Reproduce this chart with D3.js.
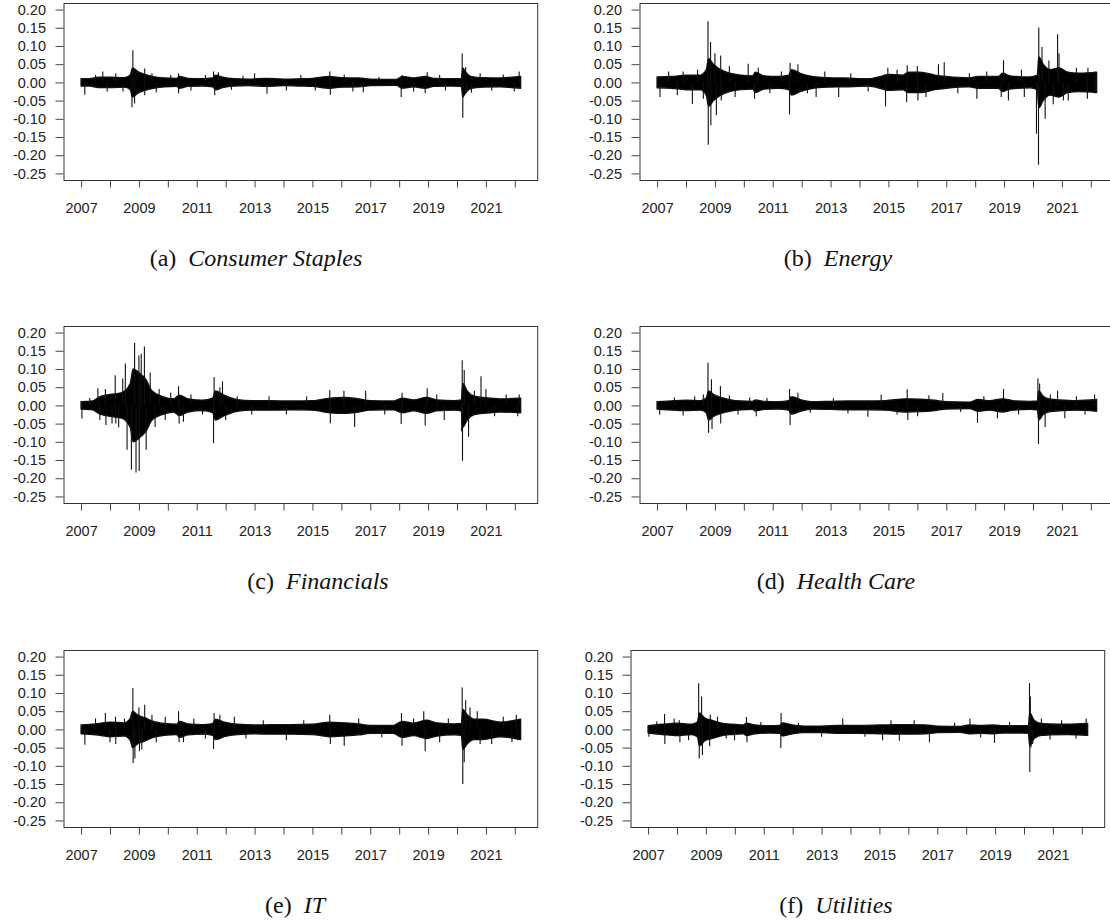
<!DOCTYPE html>
<html>
<head>
<meta charset="utf-8">
<script src="https://cdn.jsdelivr.net/npm/d3@7"></script>
<style>
  body { margin: 0; background: #fff; }
  svg { display: block; }
  .axis text { font-family: "Liberation Sans", Arial, sans-serif; font-size: 14.5px; fill: #222; }
  .axis line { stroke: #444; }
  .caption { font-family: "Liberation Serif", "Times New Roman", serif; font-size: 24px; fill: #111; }
</style>
</head>
<body>
<svg id="fig" width="1110" height="924"></svg>
<script>
// Axis ticks
var yTicks = [0.20, 0.15, 0.10, 0.05, 0.00, -0.05, -0.10, -0.15, -0.20, -0.25];
var yearTicks = [2007, 2008, 2009, 2010, 2011, 2012, 2013, 2014, 2015, 2016, 2017, 2018, 2019, 2020, 2021, 2022];
var yearLabels = [2007, 2009, 2011, 2013, 2015, 2017, 2019, 2021];
var dataStart = 2007.0, dataEnd = 2022.2;

// Half-width of the dense return band [year, width]
var staplesBand = [[2007.0, 0.01], [2007.3, 0.01], [2007.6, 0.014], [2008.0, 0.014], [2008.5, 0.013], [2008.7, 0.02],
  [2008.78, 0.04], [2008.95, 0.03], [2009.2, 0.022], [2009.5, 0.016], [2009.9, 0.012], [2010.3, 0.011], [2010.4, 0.016],
  [2010.7, 0.011], [2011.2, 0.01], [2011.55, 0.012], [2011.65, 0.02], [2011.9, 0.014], [2012.3, 0.01], [2012.8, 0.009],
  [2013.4, 0.011], [2014.0, 0.009], [2014.6, 0.01], [2015.0, 0.011], [2015.6, 0.016], [2016.0, 0.013], [2016.6, 0.012],
  [2017.0, 0.009], [2017.9, 0.008], [2018.1, 0.016], [2018.5, 0.012], [2018.9, 0.016], [2019.2, 0.011], [2019.8, 0.01],
  [2020.15, 0.011], [2020.2, 0.04], [2020.3, 0.028], [2020.5, 0.016], [2020.9, 0.013], [2021.5, 0.012], [2021.9, 0.014], [2022.2, 0.016]];
var energyBand = [[2007.0, 0.015], [2007.5, 0.016], [2008.0, 0.02], [2008.5, 0.02], [2008.7, 0.035], [2008.78, 0.065],
  [2008.95, 0.05], [2009.2, 0.035], [2009.5, 0.025], [2009.9, 0.02], [2010.3, 0.018], [2010.4, 0.028], [2010.7, 0.018],
  [2011.2, 0.016], [2011.55, 0.02], [2011.65, 0.035], [2011.95, 0.025], [2012.4, 0.016], [2012.9, 0.013], [2013.5, 0.012],
  [2014.3, 0.01], [2014.8, 0.018], [2015.0, 0.022], [2015.5, 0.02], [2015.7, 0.028], [2016.1, 0.028], [2016.6, 0.02],
  [2017.0, 0.016], [2017.8, 0.012], [2018.1, 0.016], [2018.8, 0.016], [2018.95, 0.025], [2019.2, 0.018], [2019.9, 0.015],
  [2020.15, 0.02], [2020.2, 0.07], [2020.35, 0.05], [2020.6, 0.035], [2020.9, 0.04], [2021.2, 0.028], [2021.6, 0.025], [2022.2, 0.028]];
var financialsBand = [[2007.0, 0.01], [2007.4, 0.012], [2007.6, 0.022], [2008.0, 0.03], [2008.4, 0.035], [2008.7, 0.06],
  [2008.8, 0.1], [2009.0, 0.09], [2009.25, 0.07], [2009.45, 0.04], [2009.8, 0.025], [2010.2, 0.018], [2010.4, 0.028],
  [2010.7, 0.018], [2011.2, 0.014], [2011.55, 0.02], [2011.65, 0.04], [2011.95, 0.028], [2012.4, 0.016], [2012.9, 0.013],
  [2013.5, 0.013], [2014.3, 0.012], [2015.0, 0.013], [2015.6, 0.02], [2016.1, 0.022], [2016.6, 0.018], [2017.0, 0.013],
  [2017.8, 0.012], [2018.1, 0.02], [2018.5, 0.015], [2018.95, 0.022], [2019.3, 0.015], [2019.9, 0.013], [2020.15, 0.015],
  [2020.2, 0.06], [2020.35, 0.04], [2020.6, 0.025], [2020.9, 0.022], [2021.5, 0.018], [2022.2, 0.02]];
var healthBand = [[2007.0, 0.01], [2007.6, 0.013], [2008.0, 0.014], [2008.5, 0.013], [2008.7, 0.02], [2008.78, 0.04],
  [2008.95, 0.03], [2009.2, 0.022], [2009.5, 0.016], [2009.9, 0.012], [2010.3, 0.011], [2010.4, 0.015], [2010.7, 0.011],
  [2011.2, 0.01], [2011.55, 0.013], [2011.65, 0.024], [2011.95, 0.016], [2012.4, 0.01], [2013.0, 0.011], [2013.6, 0.012],
  [2014.3, 0.012], [2014.9, 0.013], [2015.6, 0.018], [2016.1, 0.017], [2016.6, 0.014], [2017.0, 0.01], [2017.8, 0.009],
  [2018.1, 0.016], [2018.5, 0.013], [2018.95, 0.018], [2019.3, 0.013], [2019.9, 0.011], [2020.15, 0.012], [2020.2, 0.04],
  [2020.35, 0.025], [2020.6, 0.017], [2020.9, 0.015], [2021.5, 0.013], [2022.2, 0.016]];
var itBand = [[2007.0, 0.012], [2007.5, 0.015], [2008.0, 0.02], [2008.5, 0.018], [2008.7, 0.03], [2008.78, 0.05],
  [2008.95, 0.04], [2009.2, 0.032], [2009.5, 0.022], [2009.9, 0.016], [2010.3, 0.014], [2010.4, 0.022], [2010.7, 0.015],
  [2011.2, 0.013], [2011.55, 0.016], [2011.65, 0.028], [2011.95, 0.02], [2012.4, 0.014], [2013.0, 0.012], [2013.6, 0.013],
  [2014.3, 0.013], [2015.0, 0.014], [2015.6, 0.02], [2016.1, 0.018], [2016.6, 0.015], [2017.0, 0.011], [2017.8, 0.011],
  [2018.1, 0.022], [2018.5, 0.017], [2018.95, 0.025], [2019.3, 0.018], [2019.9, 0.015], [2020.15, 0.016], [2020.2, 0.055],
  [2020.35, 0.04], [2020.6, 0.028], [2020.9, 0.028], [2021.5, 0.02], [2022.2, 0.028]];
var utilitiesBand = [[2007.0, 0.01], [2007.5, 0.014], [2008.0, 0.017], [2008.5, 0.014], [2008.7, 0.02], [2008.78, 0.045],
  [2008.95, 0.032], [2009.2, 0.025], [2009.5, 0.018], [2009.9, 0.014], [2010.3, 0.012], [2010.4, 0.017], [2010.7, 0.012],
  [2011.2, 0.01], [2011.55, 0.011], [2011.65, 0.018], [2011.95, 0.013], [2012.4, 0.009], [2013.0, 0.009], [2013.6, 0.011],
  [2014.3, 0.011], [2015.0, 0.012], [2015.6, 0.013], [2016.1, 0.013], [2016.6, 0.012], [2017.0, 0.009], [2017.8, 0.008],
  [2018.1, 0.012], [2018.5, 0.011], [2018.95, 0.012], [2019.3, 0.01], [2019.9, 0.01], [2020.15, 0.011], [2020.2, 0.045],
  [2020.35, 0.025], [2020.6, 0.016], [2020.9, 0.015], [2021.5, 0.014], [2022.2, 0.016]];

// Extreme daily returns [year, return]
var staplesSpikes = [[2007.13, -0.034], [2007.5, 0.02], [2007.75, 0.03], [2007.9, -0.025], [2008.2, 0.025],
  [2008.45, -0.025], [2008.79, 0.088], [2008.76, -0.068], [2008.85, -0.058], [2008.9, 0.035], [2009.2, 0.038],
  [2009.2, -0.035], [2009.45, 0.025], [2009.6, -0.028], [2010.1, 0.02], [2010.37, 0.025], [2010.37, -0.03],
  [2010.8, -0.022], [2011.3, 0.02], [2011.58, 0.03], [2011.62, -0.035], [2011.75, 0.028], [2012.2, -0.02],
  [2012.6, 0.018], [2013.0, 0.025], [2013.43, -0.031], [2014.1, -0.022], [2014.6, 0.02], [2015.1, -0.022],
  [2015.6, 0.03], [2015.62, -0.034], [2016.1, 0.022], [2016.4, -0.025], [2016.76, -0.027], [2017.3, 0.015],
  [2018.07, -0.04], [2018.1, 0.02], [2018.5, -0.025], [2018.9, -0.03], [2018.97, 0.028], [2019.4, 0.02],
  [2019.6, -0.022], [2020.18, 0.079], [2020.2, -0.097], [2020.3, 0.042], [2020.32, -0.03], [2020.5, -0.028],
  [2020.8, 0.025], [2021.2, -0.022], [2021.6, 0.022], [2021.98, -0.025], [2022.15, 0.03]];
var energySpikes = [[2007.1, -0.04], [2007.4, 0.03], [2007.7, -0.035], [2007.9, 0.03], [2008.22, -0.059],
  [2008.4, 0.035], [2008.6, -0.045], [2008.76, 0.168], [2008.77, -0.171], [2008.85, 0.111], [2008.86, -0.118],
  [2009.0, 0.08], [2009.05, -0.09], [2009.2, 0.074], [2009.22, -0.05], [2009.5, 0.045], [2009.7, -0.04],
  [2010.15, 0.051], [2010.37, -0.045], [2010.5, 0.04], [2010.9, -0.03], [2011.3, 0.03], [2011.58, -0.088],
  [2011.6, 0.053], [2011.87, 0.05], [2012.2, -0.03], [2012.5, -0.04], [2012.8, 0.03], [2013.28, -0.04],
  [2013.7, 0.025], [2014.3, -0.025], [2014.9, -0.066], [2014.98, 0.04], [2015.3, 0.035], [2015.63, -0.054],
  [2015.65, 0.047], [2016.0, 0.045], [2016.02, -0.05], [2016.3, -0.04], [2016.73, 0.05], [2016.93, 0.055],
  [2017.4, -0.03], [2017.8, 0.025], [2018.06, -0.045], [2018.4, 0.03], [2018.9, -0.04], [2018.98, 0.061],
  [2019.15, -0.05], [2019.6, 0.035], [2019.7, -0.04], [2020.12, -0.141], [2020.19, -0.226], [2020.2, 0.151],
  [2020.31, 0.097], [2020.42, -0.1], [2020.55, 0.06], [2020.7, -0.06], [2020.85, 0.132], [2020.9, 0.08],
  [2021.05, -0.05], [2021.22, -0.05], [2021.5, 0.04], [2021.88, -0.045], [2021.9, 0.04], [2022.14, 0.03], [2022.15, -0.03]];
var financialsSpikes = [[2007.03, -0.036], [2007.3, 0.02], [2007.58, 0.047], [2007.65, -0.04], [2007.84, 0.045],
  [2007.86, -0.054], [2008.07, -0.05], [2008.18, 0.083], [2008.2, -0.05], [2008.3, -0.06], [2008.44, 0.074],
  [2008.53, 0.115], [2008.59, -0.122], [2008.74, -0.177], [2008.85, 0.171], [2008.9, -0.184], [2009.0, 0.137],
  [2009.01, -0.18], [2009.08, 0.142], [2009.19, 0.162], [2009.25, -0.122], [2009.39, 0.09], [2009.56, -0.059],
  [2009.7, 0.045], [2009.91, -0.04], [2010.1, 0.035], [2010.37, 0.053], [2010.39, -0.05], [2010.54, -0.045],
  [2010.8, 0.03], [2011.2, -0.025], [2011.58, -0.104], [2011.6, 0.078], [2011.8, 0.05], [2011.89, 0.066],
  [2012.0, -0.04], [2012.4, 0.025], [2012.9, -0.025], [2013.5, 0.025], [2014.1, -0.025], [2014.8, 0.025],
  [2015.6, 0.042], [2015.62, -0.049], [2016.09, 0.04], [2016.46, -0.059], [2016.84, 0.04], [2017.5, -0.025],
  [2018.07, -0.051], [2018.1, 0.035], [2018.9, -0.055], [2018.97, 0.047], [2019.3, 0.03], [2019.56, -0.04],
  [2020.16, -0.072], [2020.18, 0.124], [2020.19, -0.152], [2020.25, 0.097], [2020.4, -0.086], [2020.6, 0.04],
  [2020.83, 0.08], [2021.0, 0.045], [2021.3, -0.03], [2021.7, 0.03], [2022.1, -0.03], [2022.15, 0.03]];
var healthSpikes = [[2007.09, -0.026], [2007.6, 0.022], [2007.9, -0.028], [2008.3, 0.025], [2008.6, 0.03],
  [2008.76, 0.117], [2008.78, -0.075], [2008.88, 0.072], [2008.9, -0.065], [2009.19, 0.053], [2009.2, -0.05],
  [2009.5, 0.028], [2009.8, -0.025], [2010.2, 0.022], [2010.43, -0.03], [2010.8, 0.02], [2011.58, 0.045],
  [2011.6, -0.054], [2011.87, 0.035], [2012.3, -0.02], [2013.1, 0.02], [2013.6, -0.022], [2014.29, -0.031],
  [2014.75, 0.03], [2015.3, -0.025], [2015.65, 0.044], [2015.67, -0.04], [2016.01, -0.03], [2016.4, 0.028],
  [2016.88, 0.034], [2017.5, -0.018], [2018.08, -0.048], [2018.3, 0.025], [2018.77, -0.035], [2018.98, 0.045],
  [2019.5, -0.025], [2020.17, 0.074], [2020.19, -0.106], [2020.23, 0.06], [2020.42, -0.059], [2020.6, 0.03],
  [2020.85, 0.04], [2021.1, -0.035], [2021.5, 0.025], [2021.8, -0.025], [2022.13, 0.03]];
var itSpikes = [[2007.13, -0.042], [2007.5, 0.03], [2007.84, 0.045], [2008.0, -0.035], [2008.19, 0.035],
  [2008.2, -0.04], [2008.5, 0.03], [2008.79, 0.114], [2008.8, -0.092], [2008.86, -0.08], [2009.0, 0.061],
  [2009.02, -0.06], [2009.1, -0.055], [2009.2, 0.068], [2009.45, 0.04], [2009.6, -0.035], [2009.91, 0.035],
  [2010.37, 0.05], [2010.39, -0.035], [2010.54, -0.035], [2010.9, 0.03], [2011.3, -0.025], [2011.58, -0.054],
  [2011.6, 0.045], [2011.8, 0.04], [2012.3, 0.035], [2012.7, -0.025], [2013.3, 0.025], [2014.1, -0.03],
  [2014.7, 0.025], [2015.6, 0.04], [2015.62, -0.04], [2016.1, -0.045], [2016.6, 0.03], [2017.4, -0.022],
  [2018.08, 0.045], [2018.1, -0.045], [2018.5, 0.03], [2018.85, 0.05], [2018.9, -0.06], [2019.4, -0.035],
  [2019.7, 0.03], [2020.18, 0.115], [2020.2, -0.15], [2020.25, -0.09], [2020.3, 0.08], [2020.45, 0.06],
  [2020.7, 0.05], [2020.8, -0.04], [2021.2, -0.04], [2021.6, 0.035], [2021.9, -0.035], [2022.05, 0.04], [2022.1, -0.03]];
var utilitiesSpikes = [[2007.03, -0.02], [2007.3, 0.022], [2007.57, 0.042], [2007.58, -0.04], [2007.9, 0.03],
  [2008.08, 0.025], [2008.1, -0.035], [2008.4, -0.03], [2008.75, 0.127], [2008.77, -0.08], [2008.85, 0.09],
  [2008.88, -0.07], [2009.13, -0.046], [2009.15, 0.04], [2009.4, 0.035], [2009.7, -0.025], [2009.99, -0.03],
  [2010.4, 0.034], [2010.42, -0.035], [2010.9, 0.02], [2011.59, -0.051], [2011.6, 0.045], [2012.2, 0.018],
  [2013.0, -0.02], [2013.73, 0.03], [2014.5, -0.02], [2015.11, -0.03], [2015.4, 0.025], [2015.69, -0.031],
  [2016.2, 0.025], [2016.73, -0.035], [2017.6, 0.018], [2018.13, 0.03], [2018.5, -0.022], [2018.98, -0.037],
  [2019.5, 0.02], [2020.19, 0.127], [2020.2, -0.117], [2020.22, 0.09], [2020.24, -0.05], [2020.3, -0.04],
  [2020.6, 0.03], [2020.9, -0.028], [2021.3, 0.025], [2021.8, -0.025], [2022.15, 0.03]];

var svg = d3.select("#fig");

function createChart(panel) {
  var width = 474.7, height = 177;
  var g = svg.append("g")
      .attr("transform", "translate(" + panel.left + "," + panel.top + ")");

  // R style scales: 4% padding beyond the data range
  var xPad = (dataEnd - dataStart) * 0.04, yPad = (0.20 + 0.25) * 0.04;
  var x = d3.scaleLinear().domain([dataStart - xPad, dataEnd + xPad]).range([0, width]);
  var y = d3.scaleLinear().domain([-0.25 - yPad, 0.20 + yPad]).range([height, 0]);

  var area = d3.area()
      .curve(d3.curveMonotoneX)
      .x(function(d) { return x(d[0]); })
      .y0(function(d) { return y(-d[1]); })
      .y1(function(d) { return y(d[1]); });

  g.append("path")
      .datum(panel.band)
      .attr("fill", "#000")
      .attr("stroke", "#111")
      .attr("stroke-width", 1.4)
      .attr("stroke-linejoin", "round")
      .attr("d", area);

  g.append("g")
      .selectAll("line")
      .data(panel.spikes)
    .enter().append("line")
      .attr("x1", function(d) { return x(d[0]); })
      .attr("x2", function(d) { return x(d[0]); })
      .attr("y1", y(0))
      .attr("y2", function(d) { return y(d[1]); })
      .attr("stroke", "#111")
      .attr("stroke-width", 1.1);

  // box
  g.append("rect")
      .attr("x", 0.5).attr("y", 0.5)
      .attr("width", width - 1).attr("height", height)
      .attr("fill", "none")
      .attr("stroke", "#333");

  var yAxis = d3.axisLeft(y)
      .tickValues(yTicks)
      .tickSize(8)
      .tickPadding(9.5)
      .tickFormat(function(d) { return d.toFixed(2); });

  var xAxis = d3.axisBottom(x)
      .tickValues(yearTicks)
      .tickSize(7)
      .tickPadding(15.5)
      .tickFormat(function(d) { return yearLabels.indexOf(d) >= 0 ? d : ""; });

  g.append("g").attr("class", "axis").call(yAxis)
    .call(function(s) { s.select(".domain").remove(); });

  g.append("g").attr("class", "axis")
      .attr("transform", "translate(0," + (height + 0.5) + ")")
      .call(xAxis)
    .call(function(s) { s.select(".domain").remove(); });

  var cap = svg.append("text")
      .attr("class", "caption")
      .attr("x", panel.capX)
      .attr("y", panel.capY)
      .attr("text-anchor", "middle");
  cap.append("tspan").text("(" + panel.key + ")\u00a0\u00a0");
  cap.append("tspan").attr("font-style", "italic").text(panel.name);
}

var panels = [
  {key: "a", name: "Consumer Staples", band: staplesBand, spikes: staplesSpikes, left: 63.5, top: 3, capX: 256, capY: 266},
  {key: "b", name: "Energy", band: energyBand, spikes: energySpikes, left: 639.5, top: 3, capX: 838, capY: 266},
  {key: "c", name: "Financials", band: financialsBand, spikes: financialsSpikes, left: 63.5, top: 326, capX: 318, capY: 589},
  {key: "d", name: "Health Care", band: healthBand, spikes: healthSpikes, left: 639.5, top: 326, capX: 836, capY: 589},
  {key: "e", name: "IT", band: itBand, spikes: itSpikes, left: 63.5, top: 650, capX: 295, capY: 913},
  {key: "f", name: "Utilities", band: utilitiesBand, spikes: utilitiesSpikes, left: 630.5, top: 650, capX: 836, capY: 913}
];

panels.forEach(createChart);
</script>
</body>
</html>
